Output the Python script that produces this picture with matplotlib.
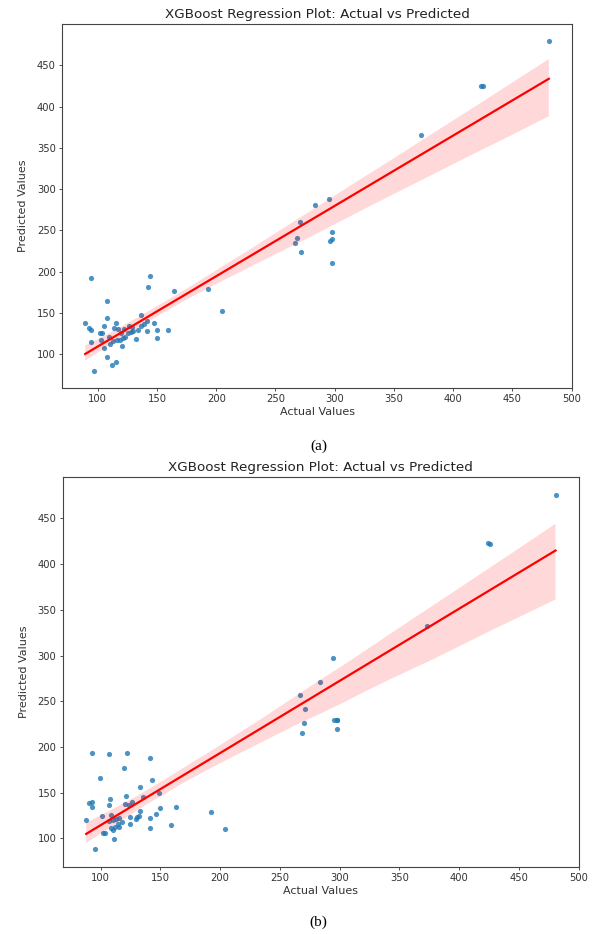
import numpy as np
import matplotlib
matplotlib.use("Agg")
import matplotlib.pyplot as plt
import seaborn as sns

# ---------------- data ----------------
actual_a = [89.4, 92.3, 94.5, 94.5, 94.3, 96.5, 101.5, 103.8, 102.7, 104.9,
            105.5, 108.2, 108.2, 108.2, 109.1, 110.5, 112.2, 112.8, 113.3, 115.5,
            115.5, 116.1, 117.0, 118.9, 119.5, 120.6, 121.2, 122.3, 123.4, 125.9,
            126.7, 127.9, 128.7, 130.1, 132.4, 134.0, 136.6, 136.6, 139.0, 141.9,
            141.9, 142.2, 144.1, 147.5, 149.7, 150.3, 159.0, 164.3, 193.1, 204.9,
            266.5, 268.4, 270.4, 271.2, 283.6, 294.9, 295.7, 297.7, 298.0, 297.7,
            373.1, 423.8, 425.5, 480.7]
predicted_a = [138.0, 131.1, 129.1, 192.3, 114.9, 78.9, 125.9, 125.9, 117.4, 134.0,
               106.8, 164.7, 143.7, 96.7, 121.0, 112.1, 87.0, 116.1, 131.6, 137.1,
               90.3, 117.0, 129.9, 117.0, 125.0, 110.1, 118.9, 130.3, 121.0, 125.0,
               134.0, 126.7, 132.3, 128.3, 117.7, 129.5, 134.0, 147.7, 136.0, 139.6,
               127.4, 180.8, 194.2, 137.1, 129.1, 118.9, 129.5, 176.8, 178.9, 151.7,
               234.5, 240.6, 260.6, 224.0, 280.5, 288.2, 237.4, 248.0, 239.0, 210.6,
               365.0, 425.2, 424.4, 480.0]

actual_b = [88.0, 90.7, 92.9, 92.9, 92.9, 95.2, 99.8, 101.5, 102.3, 104.0,
            106.8, 106.8, 106.8, 108.1, 108.7, 108.7, 110.1, 110.1, 111.0, 112.3,
            112.9, 114.3, 115.6, 115.6, 117.6, 119.5, 120.3, 121.4, 122.3, 123.9,
            124.8, 124.8, 126.2, 129.5, 130.9, 132.5, 132.8, 132.8, 135.3, 141.1,
            141.1, 141.1, 143.0, 146.7, 148.8, 149.4, 158.6, 163.5, 192.6, 204.2,
            266.5, 268.4, 270.4, 271.2, 283.6, 294.9, 295.7, 297.7, 298.0, 297.7,
            373.1, 423.8, 425.5, 480.7]
predicted_b = [119.7, 138.3, 139.7, 134.3, 193.7, 88.0, 166.4, 124.4, 106.1, 106.1,
               192.6, 136.5, 118.9, 143.4, 125.2, 111.0, 109.1, 119.7, 98.9, 112.4,
               120.8, 116.0, 121.9, 112.4, 118.2, 177.3, 137.2, 146.0, 193.7, 136.5,
               123.3, 116.0, 139.7, 120.8, 123.3, 124.4, 156.2, 129.9, 145.2, 188.3,
               122.6, 111.6, 163.5, 126.3, 149.9, 133.5, 114.2, 134.3, 128.8, 109.9,
               256.9, 215.0, 226.6, 241.2, 270.8, 297.1, 229.5, 229.2, 220.0, 229.0,
               332.0, 423.0, 422.0, 476.0]

title = "XGBoost Regression Plot: Actual vs Predicted"
xlabel = "Actual Values"
ylabel = "Predicted Values"
captions = ["(a)", "(b)"]
xticks = [100, 150, 200, 250, 300, 350, 400, 450, 500]
yticks = [100, 150, 200, 250, 300, 350, 400, 450]

# ---------------- figure ----------------
W, H = 593, 934
fig = plt.figure(figsize=(W / 100, H / 100), dpi=100)

def add_ax(left, top, right, bottom):
    return fig.add_axes([left / W, 1 - bottom / H, (right - left) / W, (bottom - top) / H])

axes = [add_ax(62, 24, 572, 388), add_ax(62.7, 477, 579, 867)]
datasets = [(actual_a, predicted_a), (actual_b, predicted_b)]
caption_y = [446, 922]

for ax, (xs, ys), cap, cy in zip(axes, datasets, captions, caption_y):
    sns.regplot(x=np.array(xs), y=np.array(ys), ax=ax, seed=3,
                scatter_kws=dict(s=14, color="#1f77b4", alpha=0.8, linewidths=0),
                line_kws=dict(color="red", linewidth=1.6))
    ax.set_title(title, fontsize=9.7, pad=4, color="#222222")
    ax.set_xlabel(xlabel, fontsize=8, labelpad=2, color="#333333")
    ax.set_ylabel(ylabel, fontsize=8, labelpad=6, color="#333333")
    ax.set_xticks(xticks)
    ax.set_yticks(yticks)
    ax.tick_params(labelsize=7.2, length=2.5, width=0.6, pad=2, colors="#333333")
    for sp in ax.spines.values():
        sp.set_linewidth(0.8)
        sp.set_color("#444444")
    fig.text(0.5 * (62 + 575) / W, 1 - cy / H, cap, ha="center", va="center",
             fontsize=11, family=["Liberation Serif", "DejaVu Serif"])

fig.savefig("out.png", dpi=100)
